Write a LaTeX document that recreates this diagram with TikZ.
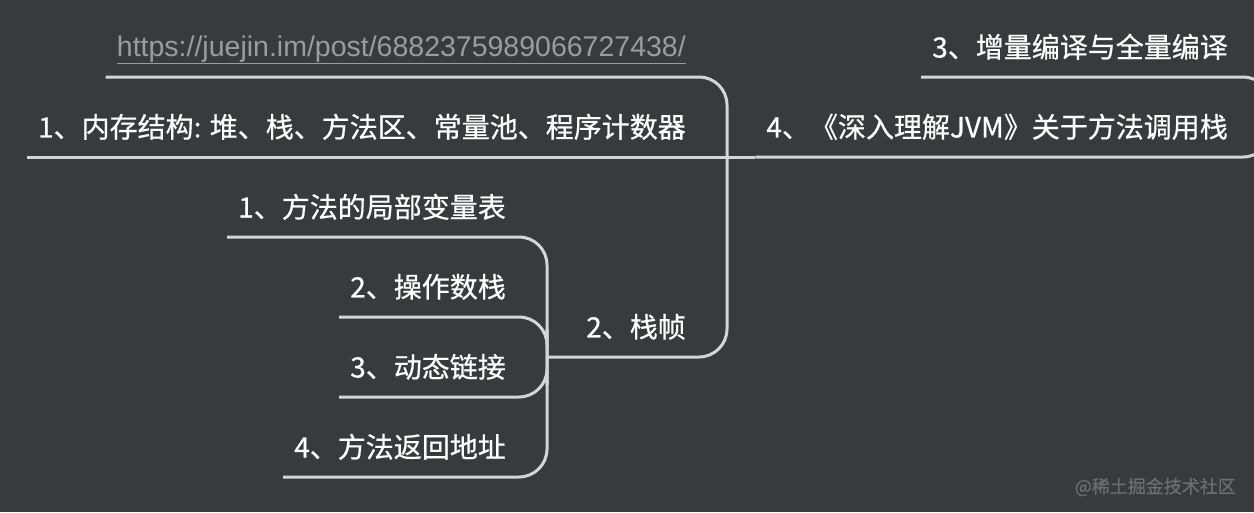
\documentclass[tikz,border=0pt]{standalone}
\usepackage{fontspec}
\setmainfont{Noto Sans CJK SC}[FakeBold=0.6]
\newfontfamily\urlfont{Liberation Sans}
\definecolor{bgdark}{HTML}{383A3D}
\definecolor{linegrey}{HTML}{D3D5D7}
\definecolor{urlgrey}{HTML}{9A9C9F}
\definecolor{markgrey}{HTML}{6B6D70}
\tikzset{
  topic/.style={anchor=south east, minimum height=60pt, inner xsep=11pt, inner ysep=0pt,
    text=white, font=\fontsize{28}{30}\selectfont},
  link/.style={draw=linegrey, line width=3pt, rounded corners=28pt},
  watermark/.style={anchor=east, inner sep=0pt, text=markgrey, font=\fontsize{18}{20}\selectfont}
}
\begin{document}
\begin{tikzpicture}[x=1pt,y=-1pt]
\fill[bgdark] (0,0) rectangle (1254,512);
\clip (0,0) rectangle (1254,512);

% topics
\node[topic, minimum height=54pt, text=urlgrey, font=\fontsize{28.5}{30}\selectfont\urlfont] (url) at (697,77) {\underline{https://juejin.im/post/6882375989066727438/}};
\node[topic] (mem) at (697,157) {1、内存结构: 堆、栈、方法区、常量池、程序计数器};
\node[topic] (frame) at (697,357) {2、栈帧};
\node[topic] (incr) at (1239,77) {3、增量编译与全量编译};
\node[topic] (jvm) at (1239,157) {4、《深入理解JVM》关于方法调用栈};

\node[topic] (local) at (517,237) {1、方法的局部变量表};
\node[topic] (operand) at (517,317) {2、操作数栈};
\node[topic] (dynlink) at (517,397) {3、动态链接};
\node[topic] (ret) at (517,477) {4、方法返回地址};

\node[watermark] (wm) at (1236,487) {@稀土掘金技术社区};

% forks
\coordinate (rootfork) at (1271,117);
\coordinate (jfork) at (727,157);
\coordinate (lfork) at (547,357);

\draw[link] (incr.south west) -| (rootfork) |- (jvm.south west);
\draw[link] (mem.south west) -- (jvm.south west);
\draw[link] (url.south west) -| (jfork) |- (lfork);
\draw[link] (local.south west) -| (lfork) |- (ret.south west);
\draw[link] (operand.south west) -| (lfork) |- (dynlink.south west);
\end{tikzpicture}
\end{document}
